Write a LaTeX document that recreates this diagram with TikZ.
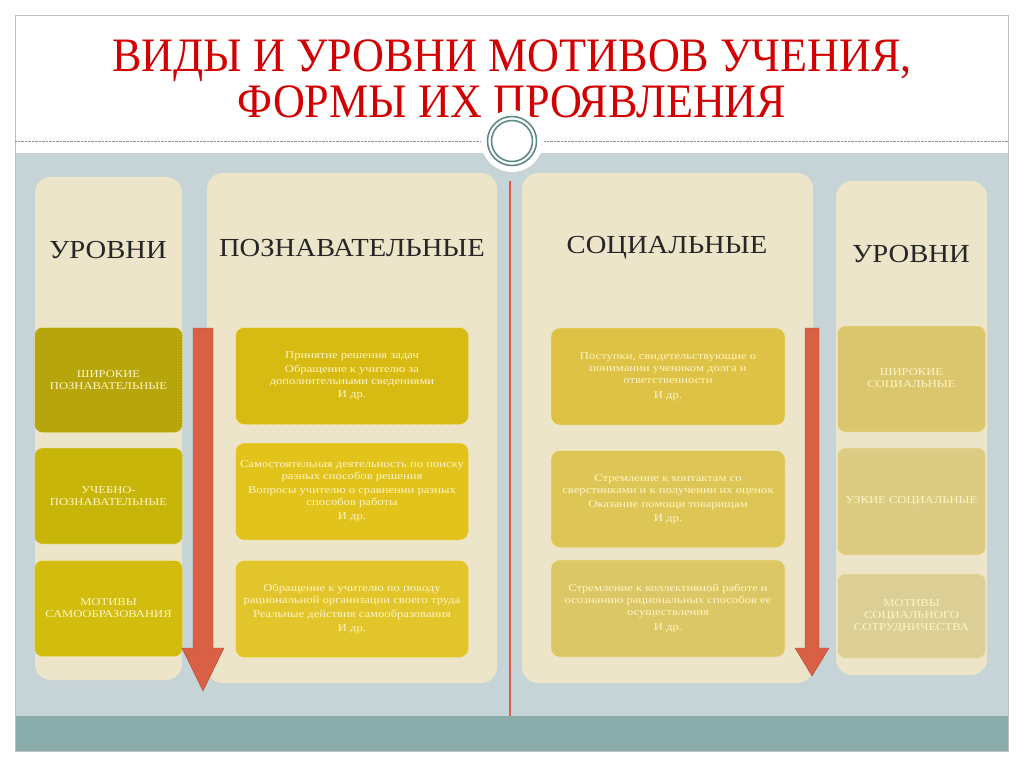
\documentclass[tikz,border=0pt]{standalone}
\usepackage{fontspec}
\setmainfont{Liberation Serif}
\newfontfamily\boxfont[FakeStretch=1.2]{Liberation Serif}
\newfontfamily\headfont[FakeStretch=1.1]{Liberation Serif}
\newcommand\titlefont{\fontsize{48}{46}\selectfont\lineskiplimit=-100pt\relax}
\usetikzlibrary{positioning}
\definecolor{slidebg}{HTML}{C6D4D8}
\definecolor{bandteal}{HTML}{8AACAB}
\definecolor{panelcream}{HTML}{EDE5CA}
\definecolor{boxtext}{HTML}{FFF4C4}
\definecolor{boxedge}{HTML}{F6EBB0}
\definecolor{arrowred}{HTML}{D95F45}
\definecolor{titlered}{HTML}{D20000}
\definecolor{ringgrey}{HTML}{5F8A88}
\definecolor{lvlA}{HTML}{B7A50C}
\definecolor{lvlB}{HTML}{C8B50A}
\definecolor{lvlC}{HTML}{D2BD0E}
\definecolor{cogA}{HTML}{D8BB12}
\definecolor{cogB}{HTML}{E1C31C}
\definecolor{cogC}{HTML}{E2C52A}
\definecolor{socA}{HTML}{DDC245}
\definecolor{socB}{HTML}{DEC656}
\definecolor{socC}{HTML}{DCC766}
\definecolor{rgtA}{HTML}{DBC66E}
\definecolor{rgtB}{HTML}{DCCB82}
\definecolor{rgtC}{HTML}{DCCF95}

\begin{document}
\begin{tikzpicture}[
        x=1pt,y=-1pt,on grid,
        panel/.style={fill=panelcream, rounded corners=16pt, draw=none},
        head/.style={text=black!85, font=\headfont\fontsize{26}{28}\selectfont},
        lvlbox/.style={rounded corners=8pt, draw=boxedge, densely dotted, line width=0.6pt,
          text=boxtext, align=center, font=\boxfont\fontsize{10.5}{12}\selectfont, minimum width=148pt},
        formbox/.style={rounded corners=9pt, draw=boxedge, densely dotted, line width=0.6pt,
          text=boxtext, align=center, font=\boxfont\fontsize{10.5}{12}\selectfont,
          minimum width=233pt, minimum height=97pt},
        downarrow/.style={fill=arrowred, draw=arrowred!80!black, line width=0.4pt}
        ]
        \useasboundingbox (0,0) rectangle (1024,767);
        \fill[white] (0,0) rectangle (1024,767);

        % slide frame
        \fill[slidebg] (15,153) rectangle (1008,716);
        \fill[bandteal] (15,716) rectangle (1008,751);
        \draw[black!25] (15,15) rectangle (1008,751);
        \draw[black!45, densely dotted] (15,141) -- (480,141) (544,141) -- (1008,141);

        % title
        \node[text=titlered, font=\titlefont, align=center, xscale=0.92]
          (title) at (512,79) {ВИДЫ И УРОВНИ МОТИВОВ УЧЕНИЯ,\\ФОРМЫ ИХ ПРОЯВЛЕНИЯ};

        % panels
        \node[panel, minimum width=147pt, minimum height=503pt] (panL) at (108.5,428.5) {};
        \node[panel, minimum width=290pt, minimum height=510pt] (panC) at (352,428) {};
        \node[panel, minimum width=291pt, minimum height=510pt] (panS) at (667.5,428) {};
        \node[panel, minimum width=151pt, minimum height=494pt] (panR) at (911.5,428) {};

        % divider and ring
        \draw[arrowred, line width=2.5pt] (510,181) -- (510,716);
        \fill[white] (512,141) circle (31);
        \draw[ringgrey, line width=1.6pt] (512,141) circle (24.5);
        \draw[ringgrey, line width=1.6pt] (512,141) circle (20.5);

        % headings
        \node[head] (hdL) at (108,250) {УРОВНИ};
        \node[head] (hdC) at (352,248) {ПОЗНАВАТЕЛЬНЫЕ};
        \node[head] (hdS) at (667,248) {СОЦИАЛЬНЫЕ};
        \node[head] (hdR) at (911,254) {УРОВНИ};

        % levels, cognitive
        \node[lvlbox, fill=lvlA, minimum height=105pt] (lvl1) at (108.5,380) {ШИРОКИЕ\\ПОЗНАВАТЕЛЬНЫЕ};
        \node[lvlbox, fill=lvlB, minimum height=96pt] (lvl2) [below=116pt of lvl1] {УЧЕБНО-\\ПОЗНАВАТЕЛЬНЫЕ};
        \node[lvlbox, fill=lvlC, minimum height=96pt] (lvl3) [below=112.5pt of lvl2] {МОТИВЫ\\САМООБРАЗОВАНИЯ};

        % forms, cognitive
        \node[formbox, fill=cogA] (cog1) at (352,376) {Принятие решения задач\\[2pt]
          Обращение к учителю за\\дополнительными сведениями\\[1pt]И др.};
        \node[formbox, fill=cogB] (cog2) [below=115.5pt of cog1] {Самостоятельная деятельность по поиску\\
          разных способов решения\\[2pt]Вопросы учителю о сравнении разных\\способов работы\\[2pt]И др.};
        \node[formbox, fill=cogC] (cog3) [below=117.5pt of cog2] {Обращение к учителю по поводу\\
          рациональной организации своего труда\\[2pt]Реальные действия самообразования\\[2pt]И др.};

        % forms, social
        \node[formbox, fill=socA, minimum width=234pt] (soc1) at (668,376.5) {Поступки, свидетельствующие о\\
          понимании учеником долга и\\ответственности\\[3pt]И др.};
        \node[formbox, fill=socB, minimum width=234pt] (soc2) [below=122.5pt of soc1] {Стремление к контактам со\\
          сверстниками  и к получении их оценок\\[2pt]Оказание помощи товарищам\\[2pt]И др.};
        \node[formbox, fill=socC, minimum width=234pt] (soc3) [below=109.5pt of soc2] {Стремление к коллективной работе и\\
          осознанию рациональных способов ее\\осуществления\\[3pt]И др.};

        % levels, social
        \node[lvlbox, fill=rgtA, minimum height=106pt] (rgt1) at (911.5,379) {ШИРОКИЕ\\СОЦИАЛЬНЫЕ};
        \node[lvlbox, fill=rgtB, minimum height=107pt] (rgt2) [below=122.5pt of rgt1] {УЗКИЕ СОЦИАЛЬНЫЕ};
        \node[lvlbox, fill=rgtC, minimum height=84pt] (rgt3) [below=114.5pt of rgt2] {МОТИВЫ\\СОЦИАЛЬНОГО\\СОТРУДНИЧЕСТВА};

        % level arrows
        \path[downarrow] (193,328) -- (213,328) -- (213,648) -- (224,648) -- (203,691)
          -- (182,648) -- (193,648) -- cycle;
        \path[downarrow] (805,328) -- (819,328) -- (819,648) -- (829,648) -- (812,676)
          -- (795,648) -- (805,648) -- cycle;
      \end{tikzpicture}
\end{document}
